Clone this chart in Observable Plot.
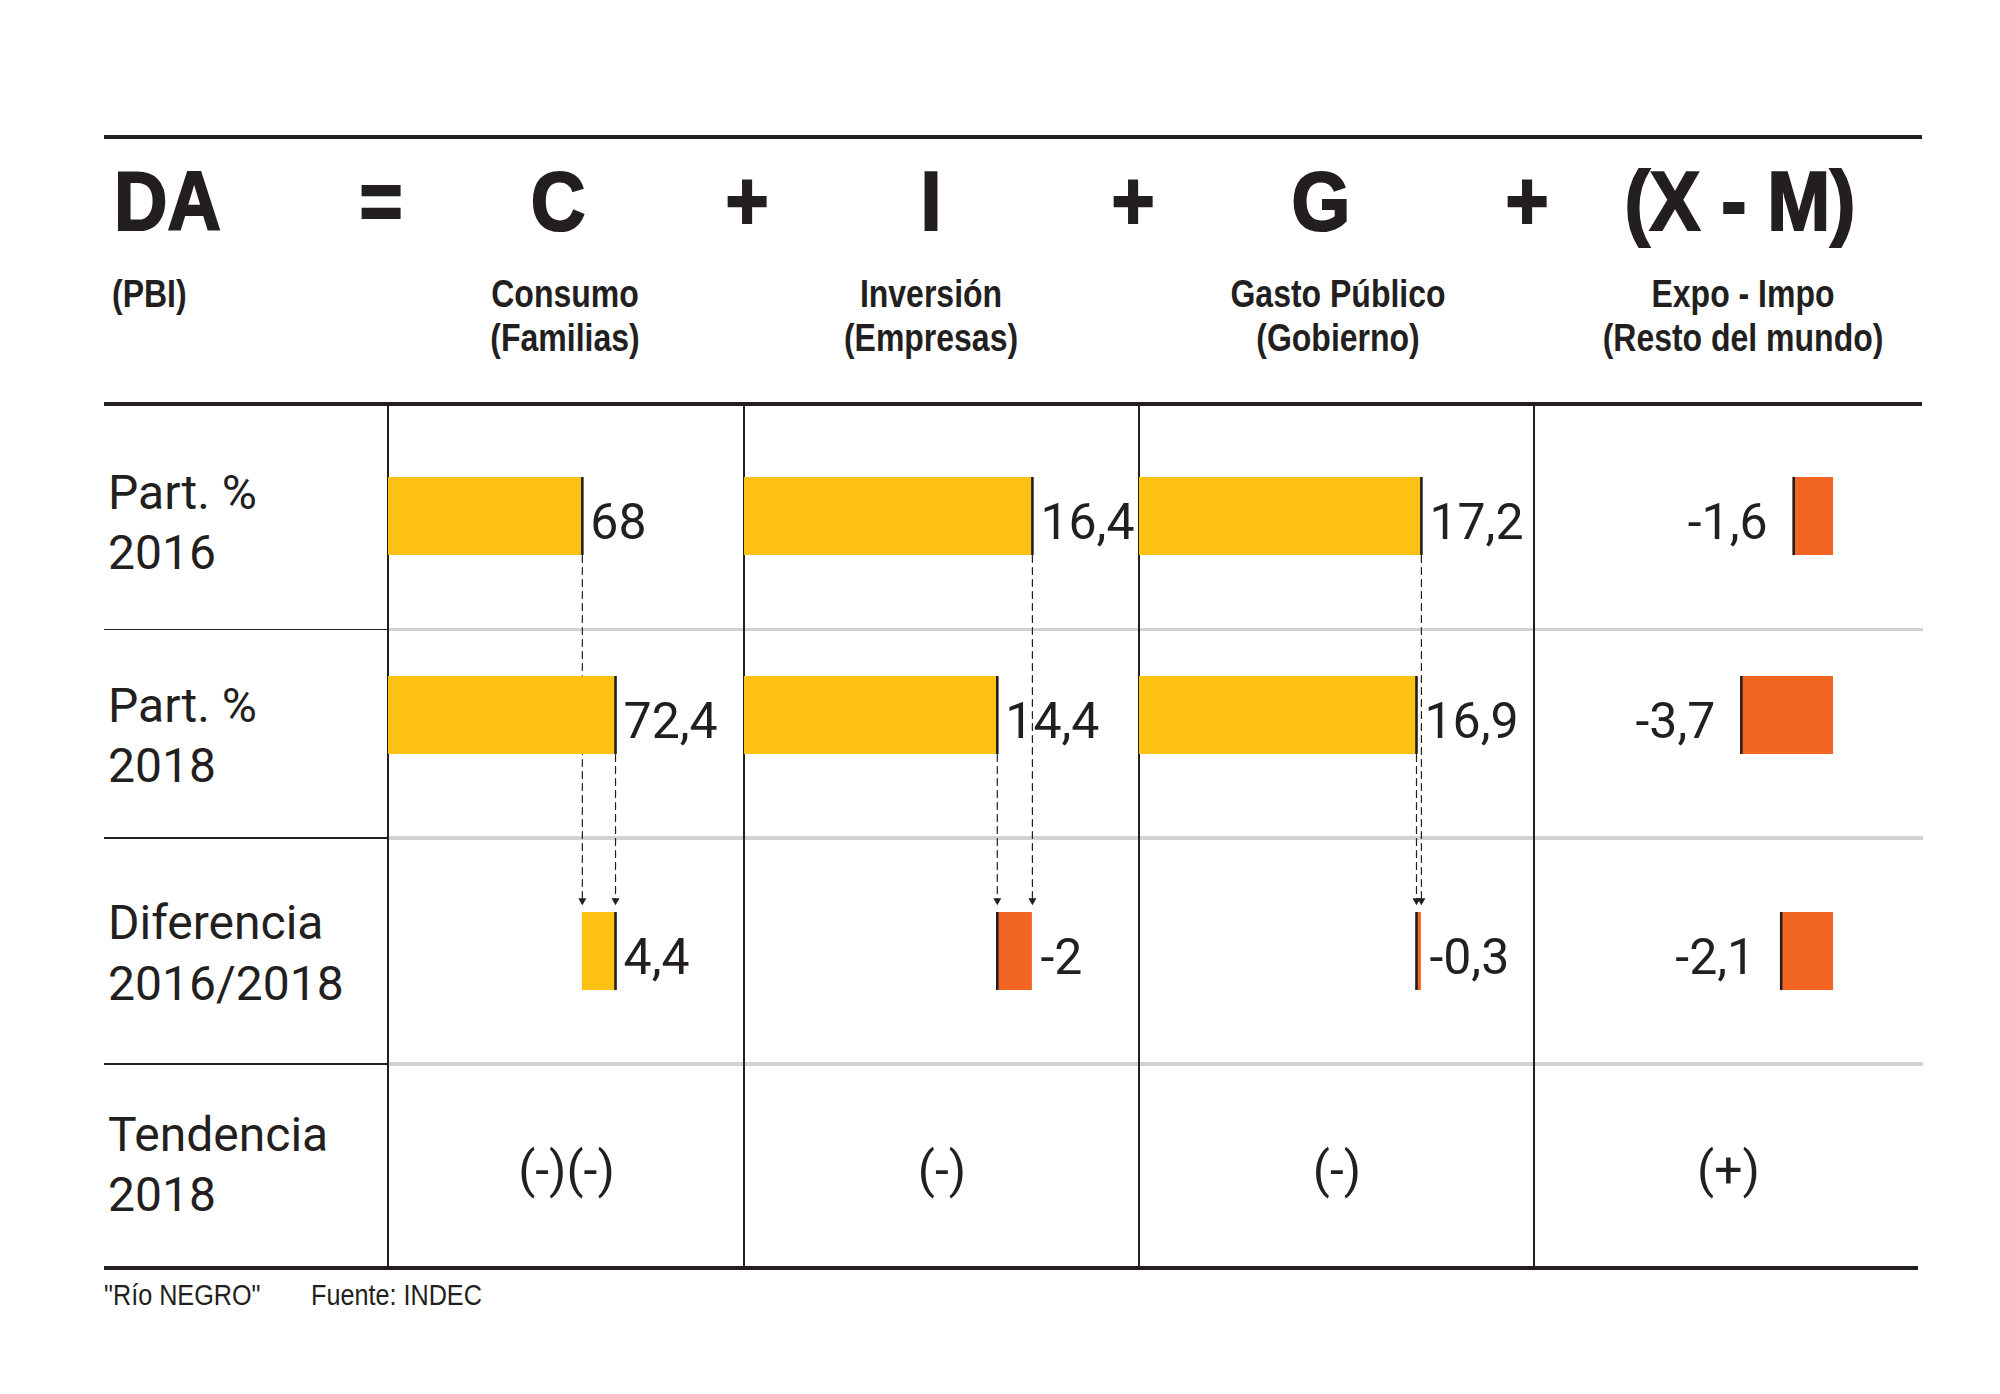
<!DOCTYPE html>
<html><head><meta charset="utf-8">
<script src="https://cdn.jsdelivr.net/npm/d3@7"></script>
<script src="https://cdn.jsdelivr.net/npm/@observablehq/plot@0.6"></script>
<style>
html,body{margin:0;padding:0;background:#fff;}
#stage{position:relative;width:2000px;height:1394px;overflow:hidden;background:#fff;color:#231f20;}
.t{position:absolute;line-height:1;white-space:nowrap;}
.cond{font-family:"Liberation Sans",Arial,sans-serif;}
.bold{font-weight:700;}
.heavy{-webkit-text-stroke:2.2px #231f20;}
.reg{font-family:Roboto,"Noto Sans",sans-serif;font-weight:400;}
.ln{position:absolute;}
.col{position:absolute;}
</style></head><body><div id="stage"></div>
<script>
// ---- data ----
const total = "DA";
const totalSub = "(PBI)";
const componentes = ["C", "I", "G", "(X - M)"];
const operadores = ["=", "+", "+", "+"];
const nombres = ["Consumo", "Inversión", "Gasto Público", "Expo - Impo"];
const agentes = ["(Familias)", "(Empresas)", "(Gobierno)", "(Resto del mundo)"];
const part2016 = [68, 16.4, 17.2, -1.6];
const part2018 = [72.4, 14.4, 16.9, -3.7];
const diferencia = [4.4, -2, -0.3, -2.1];
const tendencia = ["(-)(-)", "(-)", "(-)", "(+)"];
const filas = [["Part. %", "2016"], ["Part. %", "2018"], ["Diferencia", "2016/2018"], ["Tendencia", "2018"]];
const fuente = ['"Río NEGRO"', "Fuente: INDEC"];

// ---- styles / layout ----
const ink = "#231f20", amarillo = "#fdc113", naranja = "#f26522", gris = "#d2d2d2";
const stage = document.getElementById("stage");
const fmt = v => String(v).replace(".", ",");

function place(txt, x, base, size, cls, align, sx = 1) {
  const d = document.createElement("div");
  d.className = "t " + cls;
  d.textContent = txt;
  d.style.fontSize = size + "px";
  d.style.top = (base - 0.845 * size) + "px";
  d.style.left = x + "px";
  if (align === "center") {
    d.style.transformOrigin = "50% 50%";
    d.style.transform = `translateX(-50%) scaleX(${sx})`;
  } else {
    d.style.transformOrigin = "0 50%";
    d.style.transform = `scaleX(${sx})`;
  }
  stage.appendChild(d);
}
function hline(x1, x2, y, t, c) {
  const d = document.createElement("div");
  d.className = "ln";
  Object.assign(d.style, {left: x1 + "px", width: (x2 - x1) + "px", top: (y - t / 2) + "px", height: t + "px", background: c});
  stage.appendChild(d);
}
function vline(x, y1, y2, t, c) {
  const d = document.createElement("div");
  d.className = "ln";
  Object.assign(d.style, {left: (x - t / 2) + "px", width: t + "px", top: y1 + "px", height: (y2 - y1) + "px", background: c});
  stage.appendChild(d);
}

// table rules
hline(104, 1922, 137, 4, ink);
hline(104, 1922, 404, 4, ink);
for (const y of [629.5, 838, 1064]) {
  hline(104, 388, y, 1.5, ink);
  hline(388, 1923, y, 3.5, gris);
}
hline(104, 1918, 1268, 4, ink);
for (const x of [388, 744, 1139, 1534]) vline(x, 404, 1268, 1.4, ink);

// header formula
place(total, 114, 230, 84, "cond bold heavy", "left", 0.88);
const opX = [381, 747, 1133, 1527];
const compX = [558, 931, 1321, 1740];
operadores.forEach((o, i) => place(o, opX[i], 230, 84, "cond bold heavy", "center", 0.88));
componentes.forEach((c, i) => place(c, compX[i], 230, 84, "cond bold heavy", "center", 0.9));
place(totalSub, 112, 307, 39, "cond bold", "left", 0.82);
const subX = [564.5, 931, 1338, 1743];
nombres.forEach((n, i) => place(n, subX[i], 307, 39, "cond bold", "center", 0.82));
agentes.forEach((n, i) => place(n, subX[i], 351, 39, "cond bold", "center", 0.82));

// row labels
const filaBase = [[510, 570], [723, 783], [940, 1001], [1152, 1212]];
filas.forEach((f, i) => f.forEach((s, k) => place(s, 108, filaBase[i][k], 48, "reg", "left", 1)));

// footer
place(fuente[0], 104, 1305, 30, "cond", "left", 0.84);
place(fuente[1], 311, 1305, 30, "cond", "left", 0.84);

// ---- one Plot per component column ----
const rowKeys = ["p2016", "p2018", "dif", "tend"];
const rowShift = {p2016: 4, p2018: -13, dif: 7, tend: 10};
const colLeft = [388, 744, 1139, 1534];
const colWidth = [356, 395, 395, 388];
const xDomain = [[42.3, 89.5], [0, 22.5], [0, 24.1], [-12.0, 3.57]];

componentes.forEach((c, j) => {
  const bridge = part2016[j] > 0; // difference drawn between the 2016 and 2018 ends
  const bars = [
    {row: "p2016", x1: 0, x2: part2016[j], v: part2016[j]},
    {row: "p2018", x1: 0, x2: part2018[j], v: part2018[j]},
    {row: "dif", x1: bridge ? part2016[j] : 0, x2: bridge ? part2018[j] : diferencia[j], v: diferencia[j]}
  ];
  const conn = bridge ? [{x: part2016[j], from: "p2016"}, {x: part2018[j], from: "p2018"}] : [];
  const dash = {x1: "x", x2: "x", y1: d => d.from, y2: () => "dif", headLength: 0, stroke: ink, strokeWidth: 1.2, strokeDasharray: "7,5", insetEnd: 44};
  const marks = [
    Plot.arrow(conn.filter(d => d.from === "p2016"), {...dash, insetStart: 43}),
    Plot.arrow(conn.filter(d => d.from === "p2018"), {...dash, insetStart: 26}),
    Plot.dot(conn, {x: "x", y: () => "dif", symbol: "triangle", rotate: 180, r: 3, fill: ink, stroke: "none", dy: -44})
  ];
  for (const r of ["p2016", "p2018", "dif"]) {
    const rows = bars.filter(d => d.row === r);
    const dy = rowShift[r];
    marks.push(
      Plot.barX(rows, {y: "row", x1: "x1", x2: "x2", fill: d => d.v >= 0 ? "pos" : "neg", dy, clip: true}),
      Plot.tickX(rows, {x: "x2", y: "row", stroke: ink, strokeWidth: 2.6, dy}),
      Plot.text(rows.filter(d => d.x2 >= 0), {x: d => Math.max(d.x1, d.x2), y: "row", text: d => fmt(d.v), textAnchor: "start", dx: 8, dy: dy + 6, fontSize: 50, fontFamily: "Roboto", fill: ink}),
      Plot.text(rows.filter(d => d.x2 < 0), {x: d => Math.min(d.x1, d.x2), y: "row", text: d => fmt(d.v), textAnchor: "end", dx: -26, dy: dy + 6, fontSize: 50, fontFamily: "Roboto", fill: ink})
    );
  }
  marks.push(Plot.text([tendencia[j]], {y: () => "tend", text: d => d, frameAnchor: "middle", dy: rowShift.tend, fontSize: 50, fontFamily: "Roboto", fill: ink}));

  const chart = Plot.plot({
    width: colWidth[j],
    height: 864,
    margin: 0,
    x: {domain: xDomain[j], axis: null},
    y: {type: "band", domain: rowKeys, paddingInner: 0.639, paddingOuter: 0.3195, align: 0.5, round: false, axis: null},
    color: {domain: ["pos", "neg"], range: [amarillo, naranja]},
    style: {background: "transparent", overflow: "visible", fontFamily: "Roboto"},
    marks
  });
  const holder = document.createElement("div");
  holder.className = "col";
  holder.style.left = colLeft[j] + "px";
  holder.style.top = "404px";
  holder.appendChild(chart);
  stage.appendChild(holder);
});
</script></body></html>
